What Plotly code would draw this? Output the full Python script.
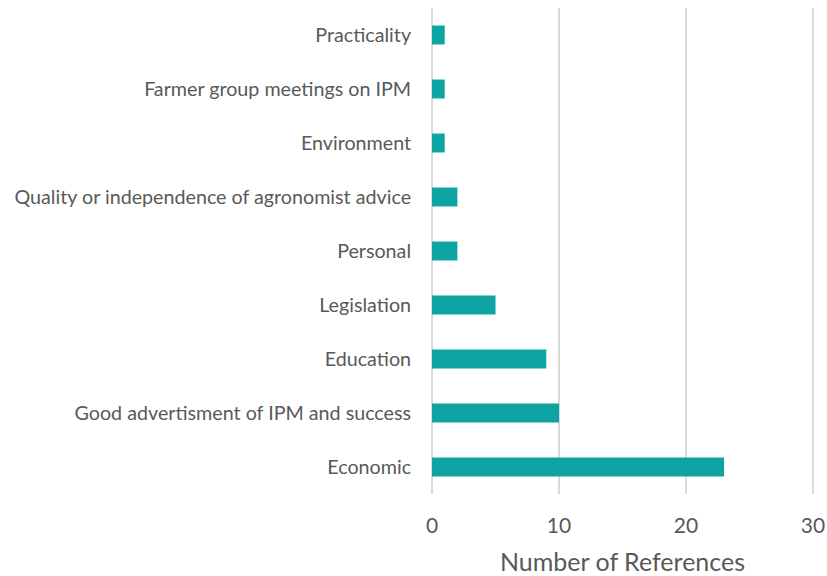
import plotly.graph_objects as go

# Factors cited, bottom-to-top order on the category axis
categories = [
    "Economic",
    "Good advertisment of IPM and success",
    "Education",
    "Legislation",
    "Personal",
    "Quality or independence of agronomist advice",
    "Environment",
    "Farmer group meetings on IPM",
    "Practicality",
]
references = [23, 10, 9, 5, 2, 2, 1, 1, 1]
x_ticks = [0, 10, 20, 30]

TEXT = "#595959"
FONT = "Lato"

fig = go.Figure(
    go.Bar(
        x=references,
        y=categories,
        orientation="h",
        marker=dict(color="#0fa4a4", line=dict(width=0)),
        width=0.35,
    )
)

fig.update_layout(
    width=827,
    height=576,
    margin=dict(l=431, r=13, t=8, b=82),
    plot_bgcolor="white",
    paper_bgcolor="white",
    showlegend=False,
    font=dict(family=FONT, color=TEXT),
)

fig.update_xaxes(
    range=[-0.08, 30.08],
    tickvals=x_ticks,
    showgrid=True,
    gridcolor="#d9d9d9",
    gridwidth=2,
    zeroline=False,
    showline=False,
    automargin=False,
    tickfont=dict(size=21, color=TEXT, family=FONT),
    ticks="outside",
    ticklen=13,
    tickcolor="white",
    title=dict(text="Number of References", font=dict(size=25, color=TEXT, family=FONT), standoff=18),
)

fig.update_yaxes(
    categoryorder="array",
    categoryarray=categories,
    showgrid=False,
    zeroline=False,
    showline=False,
    automargin=False,
    tickfont=dict(size=19.7, color=TEXT, family=FONT),
    ticks="outside",
    ticklen=15,
    tickcolor="white",
)

fig.write_html("out.html")
